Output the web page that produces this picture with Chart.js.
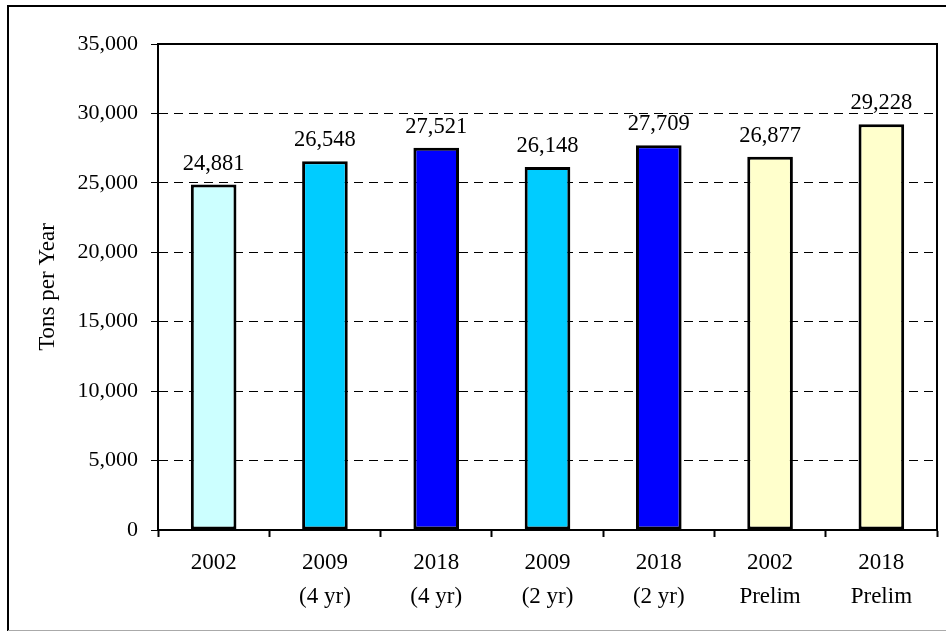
<!DOCTYPE html>
<html>
<head>
<meta charset="utf-8">
<script src="https://cdn.jsdelivr.net/npm/chart.js@4/dist/chart.umd.min.js"></script>
<style>
  html, body { margin: 0; padding: 0; background: #fff; }
  #wrap { width: 946px; height: 631px; }
</style>
</head>
<body>
<div id="wrap"><canvas id="tonsChart" width="946" height="631"></canvas></div>
<script>
// categories (two-line labels) and values
const categories = [
    ['2002'],
    ['2009', '(4 yr)'],
    ['2018', '(4 yr)'],
    ['2009', '(2 yr)'],
    ['2018', '(2 yr)'],
    ['2002', 'Prelim'],
    ['2018', 'Prelim']
];
const tonsPerYear = [24881, 26548, 27521, 26148, 27709, 26877, 29228];
const barColors = ['#CCFFFF', '#00CCFF', '#0000FF', '#00CCFF', '#0000FF', '#FFFFCC', '#FFFFCC'];

const fmt = v => Number(v).toLocaleString('en-US');

Chart.defaults.font.family = "'Liberation Serif', 'Times New Roman', serif";
Chart.defaults.color = '#000';

// outer frame of the picture + frame of the plot area
const framePlugin = {
    id: 'frames',
    beforeDraw(chart) {
        const ctx = chart.ctx;
        ctx.save();
        ctx.fillStyle = '#fff';
        ctx.fillRect(0, 0, chart.width, chart.height);
        ctx.strokeStyle = '#000';
        ctx.lineWidth = 2;
        ctx.beginPath();
        ctx.moveTo(8, 631);
        ctx.lineTo(8, 6);
        ctx.lineTo(946, 6);
        ctx.stroke();
        ctx.strokeStyle = '#aaaaaa';
        ctx.lineWidth = 1;
        ctx.beginPath();
        ctx.moveTo(8, 630.5);
        ctx.lineTo(946, 630.5);
        ctx.stroke();
        ctx.restore();
    },
    afterDraw(chart) {
        const { ctx, chartArea: a } = chart;
        ctx.save();
        ctx.strokeStyle = '#000';
        ctx.lineWidth = 2;
        ctx.strokeRect(a.left, a.top, a.right - a.left, a.bottom - a.top);
        ctx.restore();
    }
};

// value printed above each bar
const valueLabels = {
    id: 'valueLabels',
    afterDatasetsDraw(chart) {
        const ctx = chart.ctx;
        const meta = chart.getDatasetMeta(0);
        ctx.save();
        ctx.font = "22.5px 'Liberation Serif', serif";
        ctx.fillStyle = '#000';
        ctx.textAlign = 'center';
        ctx.textBaseline = 'alphabetic';
        meta.data.forEach((bar, i) => {
            ctx.fillText(fmt(chart.data.datasets[0].data[i]), bar.x, bar.y - 15);
        });
        ctx.restore();
    }
};

new Chart(document.getElementById('tonsChart'), {
    type: 'bar',
    data: {
        labels: categories,
        datasets: [{
            data: tonsPerYear,
            backgroundColor: barColors,
            borderColor: '#000',
            borderWidth: 3,
            borderSkipped: false,
            barPercentage: 0.41,
            categoryPercentage: 1
        }]
    },
    options: {
        responsive: false,
        animation: false,
        devicePixelRatio: 1,
        layout: { padding: { left: 8, top: 44, right: 9, bottom: 0 } },
        plugins: { legend: { display: false }, tooltip: { enabled: false } },
        scales: {
            x: {
                grid: { drawOnChartArea: false, color: '#000', tickLength: 7, tickWidth: 2, offset: true },
                border: { color: '#000', width: 2 },
                ticks: { font: { size: 23, lineHeight: '34px' }, padding: 9, maxRotation: 0, autoSkip: false },
                afterFit: s => { s.height = 101; }
            },
            y: {
                min: 0,
                max: 35000,
                ticks: { stepSize: 5000, font: { size: 22 }, padding: 13, callback: v => fmt(v) },
                grid: { color: '#000', lineWidth: 1, tickLength: 7 },
                border: { color: '#000', width: 2, dash: [9, 6] },
                title: { display: true, text: 'Tons per Year', font: { size: 23 }, padding: { top: 26, bottom: 0 } },
                afterFit: s => { s.width = 150; }
            }
        }
    },
    plugins: [framePlugin, valueLabels]
});
</script>
</body>
</html>
